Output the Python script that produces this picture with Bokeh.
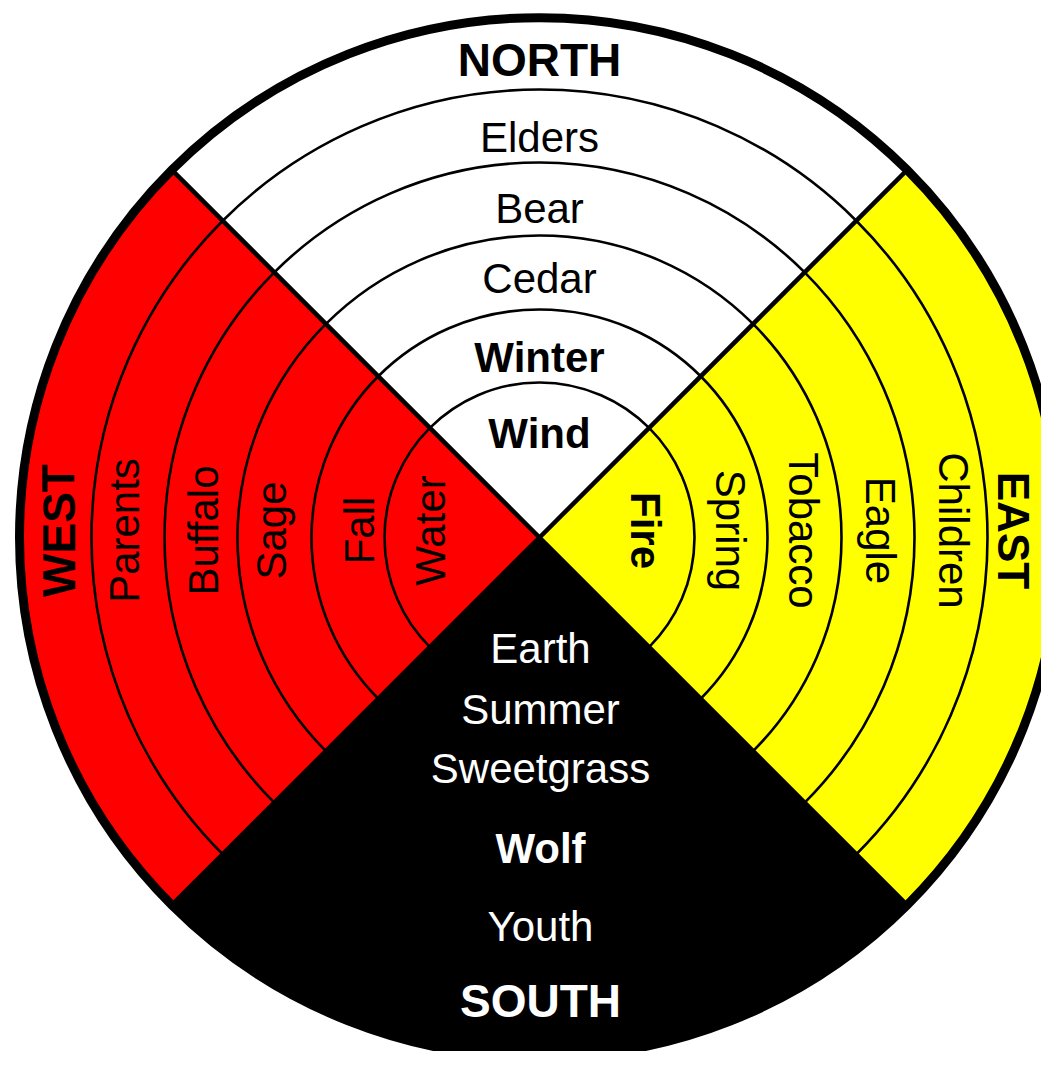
import numpy as np
from bokeh.plotting import figure
from bokeh.models import ColumnDataSource, Range1d
from bokeh.core.properties import value
from bokeh.embed import file_html
from bokeh.resources import INLINE

# ---- data ----
directions = ["NORTH", "EAST", "SOUTH", "WEST"]
direction_angles_deg = [90, 0, 270, 180]
north_labels = ["Wind", "Winter", "Cedar", "Bear", "Elders", "NORTH"]
east_labels = ["Fire", "Spring", "Tobacco", "Eagle", "Children", "EAST"]
south_labels = ["Earth", "Summer", "Sweetgrass", "Wolf", "Youth", "SOUTH"]
west_labels = ["Water", "Fall", "Sage", "Buffalo", "Parents", "WEST"]
ring_radii = [155, 228, 302, 375, 448, 520]

# ---- styles / layout ----
quadrant_colors = {"NORTH": "#FFFFFF", "EAST": "#FFFF00", "SOUTH": "#000000", "WEST": "#FF0000"}
text_colors = {"NORTH": "black", "EAST": "black", "SOUTH": "white", "WEST": "black"}
label_radius = {
    "NORTH": [104, 180, 259, 329, 400, 478],
    "EAST": [106, 191, 264, 341, 414, 474],
    "SOUTH": [111, 172, 231, 311, 389, 463],
    "WEST": [109, 180, 268, 336, 415, 481],
}
bold_words = {"NORTH", "EAST", "SOUTH", "WEST", "Winter", "Wind", "Fire", "Wolf"}
FONT = "Liberation Sans"

labels_by_dir = {"NORTH": north_labels, "EAST": east_labels,
                 "SOUTH": south_labels, "WEST": west_labels}

W, H = 1041, 1051
CX, CY = 539, 537  # pixel position of the wheel centre
p = figure(width=W, height=H,
           x_range=Range1d(-CX, W - CX), y_range=Range1d(CY - H, CY),
           output_backend="svg", toolbar_location=None,
           x_axis_type=None, y_axis_type=None,
           min_border=0, outline_line_color=None)
p.background_fill_color = "white"
p.border_fill_color = "white"

R = ring_radii[-1]

# quadrants
wsrc = ColumnDataSource(dict(
    start=[np.radians(a - 45) for a in direction_angles_deg],
    end=[np.radians(a + 45) for a in direction_angles_deg],
    color=[quadrant_colors[d] for d in directions],
))
p.wedge(x=0, y=0, radius=R, start_angle="start", end_angle="end",
        fill_color="color", line_color=None, source=wsrc)

# ring arcs (not in the south)
for d, a in zip(directions, direction_angles_deg):
    if d == "SOUTH":
        continue
    for r in ring_radii[:-1]:
        p.arc(x=0, y=0, radius=r, start_angle=np.radians(a - 45),
              end_angle=np.radians(a + 45), line_color="black", line_width=2.6)

# diagonal dividers
diag = np.radians([45, 135, 225, 315])
p.segment(x0=[0] * 4, y0=[0] * 4, x1=list(R * np.cos(diag)), y1=list(R * np.sin(diag)),
          line_color="black", line_width=4.5)

# outer rim
p.circle(x=0, y=0, radius=R, fill_color=None, line_color="black", line_width=9)

# labels
xs, ys, txt, ang, col, size, style = [], [], [], [], [], [], []
for d in directions:
    for lab, r in zip(labels_by_dir[d], label_radius[d]):
        if d == "NORTH":
            x, y, a = 0, r, 0.0
        elif d == "SOUTH":
            x, y, a = 1, -r, 0.0
        elif d == "EAST":
            x, y, a = r, 7, -np.pi / 2
        else:
            x, y, a = -r, 7, np.pi / 2
        xs.append(x); ys.append(y); txt.append(lab); ang.append(a)
        col.append(text_colors[d])
        if lab == "EAST":
            size.append("44px")
        elif lab in directions:
            size.append("46px")
        else:
            size.append("42px")
        style.append("bold" if lab in bold_words else "normal")

tsrc = ColumnDataSource(dict(x=xs, y=ys, text=txt, angle=ang, color=col,
                             size=size, style=style))
p.text(x="x", y="y", text="text", angle="angle", text_color="color",
       text_font=value(FONT), text_font_size="size", text_font_style="style",
       text_align="center", text_baseline="middle", source=tsrc)

open("out.html", "w").write(file_html(p, INLINE))
